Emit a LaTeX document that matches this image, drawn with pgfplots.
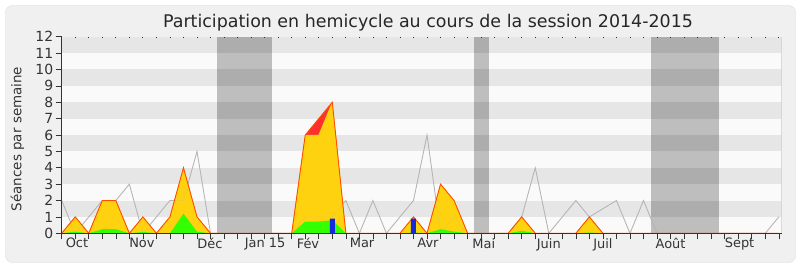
\documentclass[border=0pt]{standalone}
\usepackage{pgfplots}
\pgfplotsset{compat=1.18}
\usepackage{fontspec}
\setmainfont{DejaVu Sans}

\definecolor{pagebg}{HTML}{F0F0F0}
\definecolor{framec}{HTML}{DCDCDC}
\definecolor{bandlight}{HTML}{FAFAFA}
\definecolor{banddark}{HTML}{E6E6E6}
\definecolor{vaclight}{HTML}{BEBEBE}
\definecolor{vacdark}{HTML}{ADADAD}
\definecolor{presyellow}{HTML}{FFD20F}
\definecolor{presred}{HTML}{FF3030}
\definecolor{presline}{HTML}{FF4E00}
\definecolor{intgreen}{HTML}{33FF00}
\definecolor{qblue}{HTML}{1428DC}
\definecolor{medgray}{HTML}{B4B4B4}
\definecolor{txt}{HTML}{333333}

% weekly values, week 0 = first week of October 2014
\pgfplotstableread{
w  tot  pres  inter
0  0    0     0
1  1    1     0.1
2  0    0     0
3  2    2     0.25
4  2    2     0.25
5  0    0     0
6  1    1     0.08
7  0    0     0
8  1    1     0
9  4    4     1.2
10 1    1     0.1
11 0    0     0
12 0    0     0
13 0    0     0
14 0    0     0
15 0    0     0
16 0    0     0
17 0    0     0
18 6    6     0.72
19 7    6     0.72
20 8    8     0.8
21 0    0     0
22 0    0     0
23 0    0     0
24 0    0     0
25 0    0     0
26 1    1     0.05
27 0    0     0
28 3    3     0.25
29 2    2     0.1
30 0    0     0
31 0    0     0
32 0    0     0
33 0    0     0
34 1    1     0.15
35 0    0     0
36 0    0     0
37 0    0     0
38 0    0     0
39 1    1     0.05
40 0    0     0
41 0    0     0
42 0    0     0
43 0    0     0
44 0    0     0
45 0    0     0
46 0    0     0
47 0    0     0
48 0    0     0
49 0    0     0
50 0    0     0
51 0    0     0
52 0    0     0
53 0    0     0
}\weeks

% median of all deputies
\pgfplotstableread{
w  med
0  2
1  0
2  1
3  2
4  2
5  3
6  0
7  1
8  2
9  2
10 5
11 0
12 0
13 0
14 0
15 0
16 0
17 0
18 1
19 1
20 1
21 2
22 0
23 2
24 0
25 1
26 2
27 6
28 0
29 1
30 0
31 0
32 0
33 0
34 1
35 4
36 0
37 1
38 2
39 1
40 1.5
41 2
42 0
43 2
44 0
45 0
46 0
47 0
48 0
49 0
50 0
51 0
52 0
53 1
}\median

\begin{document}
\begin{tikzpicture}[x=1bp,y=1bp]
\useasboundingbox (0,0) rectangle (800,267);
\fill[white] (0,0) rectangle (800,267);
\draw[fill=pagebg, draw=framec, rounded corners=7bp] (5.5,4.5) rectangle (795.5,261.5);
\node[anchor=base, text=black!85, font=\fontsize{17.5}{17.5}\selectfont] at (428,239.5)
  {Participation en hemicycle au cours de la session 2014-2015};

\begin{axis}[
  at={(61.7bp,33.7bp)}, anchor=south west,
  scale only axis, width=719.8bp, height=196.6bp,
  xmin=0, xmax=53.2, ymin=0, ymax=12,
  axis on top,
  axis x line*=bottom, axis y line*=left,
  axis line style={-, draw=black!80, line width=0.9pt},
  tick align=outside,
  xtick={0,...,53}, xticklabels={},
  major tick length=6bp,
  tick style={draw=black!80, line width=0.6pt},
  extra x ticks={1.13,5.93,10.96,15.03,18.2,22.2,27.07,31.2,36.0,40.0,45.0,50.1},
  extra x tick labels={Oct,Nov,Déc,Jan 15,Fév,Mar,Avr,Mai,Juin,Juil,Août,Sept},
  extra x tick style={major tick length=0pt, tick label style={yshift=-1.5bp}},
  ytick={0,...,12},
  /pgf/number format/assume math mode=true,
  tick label style={font=\fontsize{13}{13}\selectfont, text=txt},
  yticklabel style={font=\fontsize{14}{14}\selectfont, xshift=1bp},
  ylabel={Séances par semaine},
  ylabel style={font=\fontsize{13.5}{13.5}\selectfont, text=txt,
    at={(axis description cs:-0.0615,0.48)}, anchor=center, rotate=0},
  clip=true,
]
% horizontal bands
\fill[bandlight] (axis cs:0,0) rectangle (axis cs:53.2,12);
\fill[banddark] (axis cs:0,1) rectangle (axis cs:53.2,2);
\fill[banddark] (axis cs:0,3) rectangle (axis cs:53.2,4);
\fill[banddark] (axis cs:0,5) rectangle (axis cs:53.2,6);
\fill[banddark] (axis cs:0,7) rectangle (axis cs:53.2,8);
\fill[banddark] (axis cs:0,9) rectangle (axis cs:53.2,10);
\fill[banddark] (axis cs:0,11) rectangle (axis cs:53.2,12);
% parliamentary recess periods
\fill[vaclight] (axis cs:11.5,0) rectangle (axis cs:15.55,12);
\fill[vaclight] (axis cs:30.47,0) rectangle (axis cs:31.55,12);
\fill[vaclight] (axis cs:43.55,0) rectangle (axis cs:48.55,12);
\foreach \lo in {1,3,5,7,9,11} {
  \edef\tmp{\noexpand\fill[vacdark] (axis cs:11.5,\lo) rectangle (axis cs:15.55,\lo+1);
    \noexpand\fill[vacdark] (axis cs:30.47,\lo) rectangle (axis cs:31.55,\lo+1);
    \noexpand\fill[vacdark] (axis cs:43.55,\lo) rectangle (axis cs:48.55,\lo+1);}
  \tmp
}
\draw[black!20] (axis cs:53.2,0) -- (axis cs:53.2,12);

% median line
\addplot[medgray, line width=0.8pt, mark=none] table[x=w, y=med] {\median};
% total presence (red part shows the unrecorded share)
\addplot[fill=presred, draw=none] table[x=w, y=tot] {\weeks} \closedcycle;
\addplot[fill=presyellow, draw=presyellow, line width=0.5pt] table[x=w, y=pres] {\weeks} \closedcycle;
% interventions
\addplot[fill=intgreen, draw=none] table[x=w, y=inter] {\weeks} \closedcycle;
% median seen faintly through the areas
\addplot[medgray, line width=0.6pt, mark=none, opacity=0.25] table[x=w, y=med] {\median};
% outline of total
\addplot[presline, line width=0.9pt, mark=none] table[x=w, y=tot] {\weeks};
% oral questions
\addplot[ybar, bar width=5bp, fill=qblue, draw=none] coordinates {(20,0.9) (26,0.9)};
\end{axis}

% small weekly marks along the top edge
\begin{axis}[
  at={(61.7bp,33.7bp)}, anchor=south west,
  scale only axis, width=719.8bp, height=196.6bp,
  xmin=0, xmax=53.2, ymin=0, ymax=12,
  hide y axis,
  axis x line*=top,
  axis line style={draw=none},
  xtick={0,...,53}, xticklabels={},
  tick align=inside, major tick length=1.5bp,
  tick style={draw=black!80, line width=0.8pt},
]
\addplot[draw=none] coordinates {(0,0)};
\end{axis}
\end{tikzpicture}
\end{document}
